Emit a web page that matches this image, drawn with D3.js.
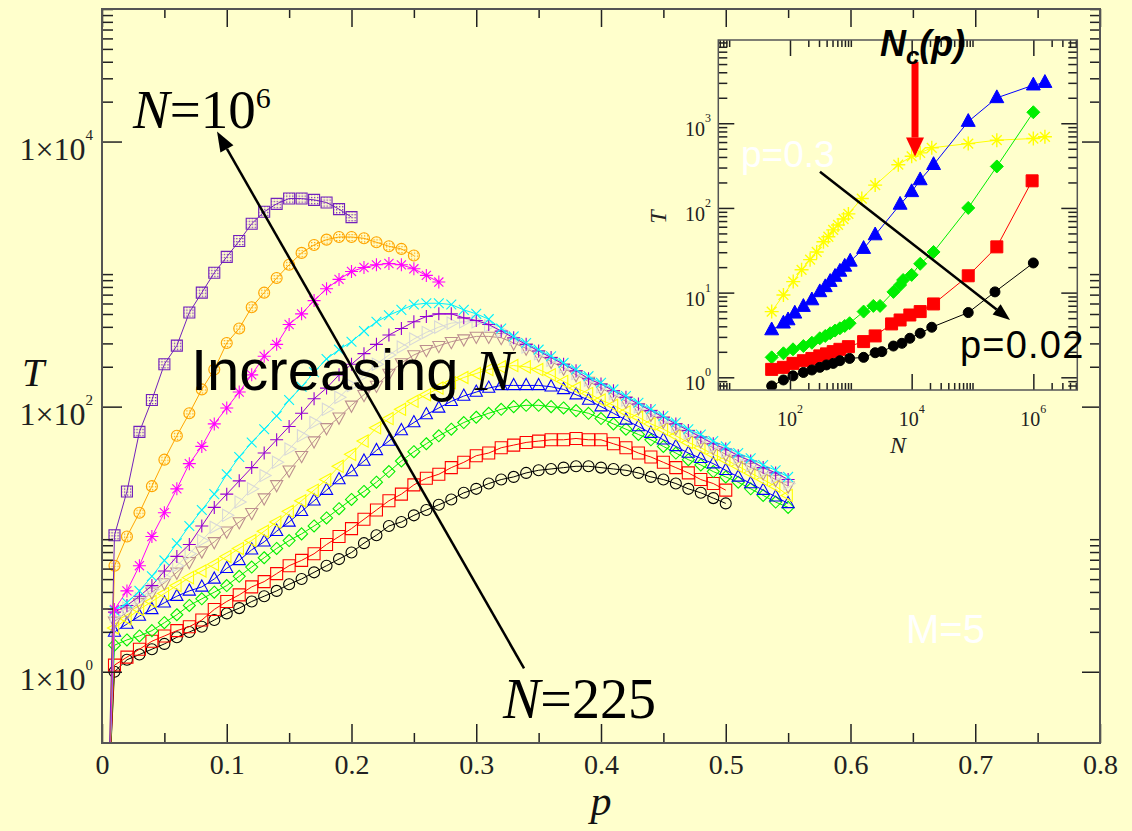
<!DOCTYPE html>
<html>
<head>
<meta charset="utf-8">
<script src="https://cdnjs.cloudflare.com/ajax/libs/d3/7.8.5/d3.min.js"></script>
<style>
  body { margin: 0; background: #ffffcc; }
  svg { display: block; }
</style>
</head>
<body>
<div id="chart"></div>
<script>
'use strict';

// ---- main panel: T versus p, log10(T) (first point at p=0.005 falls below the frame)
var pGrid = [0.005, 0.01, 0.02, 0.03, 0.04, 0.05, 0.06, 0.07, 0.08, 0.09, 0.10,
  0.11, 0.12, 0.13, 0.14, 0.15, 0.16, 0.17, 0.18, 0.19, 0.20,
  0.21, 0.22, 0.23, 0.24, 0.25, 0.26, 0.27, 0.28, 0.29, 0.30,
  0.31, 0.32, 0.33, 0.34, 0.35, 0.36, 0.37, 0.38, 0.39, 0.40,
  0.41, 0.42, 0.43, 0.44, 0.45, 0.46, 0.47, 0.48, 0.49, 0.50,
  0.51, 0.52, 0.53, 0.54, 0.55]

var logT_black = [-1.0, 0.00, 0.09, 0.13, 0.17, 0.21, 0.26, 0.30, 0.34, 0.39, 0.44, 0.48, 0.53, 0.57, 0.61, 0.66, 0.70, 0.75, 0.80, 0.85, 0.90, 0.97, 1.03, 1.10, 1.13, 1.18, 1.22, 1.26, 1.30, 1.35, 1.38, 1.42, 1.45, 1.47, 1.50, 1.52, 1.53, 1.54, 1.55, 1.55, 1.54, 1.53, 1.52, 1.50, 1.47, 1.45, 1.42, 1.38, 1.35, 1.31, 1.27]
var logT_red = [-1.0, 0.05, 0.11, 0.17, 0.23, 0.27, 0.31, 0.34, 0.39, 0.47, 0.53, 0.58, 0.64, 0.68, 0.74, 0.80, 0.84, 0.89, 0.96, 1.02, 1.08, 1.15, 1.22, 1.29, 1.34, 1.41, 1.46, 1.49, 1.54, 1.58, 1.63, 1.65, 1.69, 1.71, 1.73, 1.74, 1.75, 1.75, 1.76, 1.75, 1.75, 1.72, 1.69, 1.65, 1.62, 1.58, 1.54, 1.50, 1.45, 1.42, 1.37]
var logT_green = [-1.0, 0.20, 0.24, 0.27, 0.31, 0.37, 0.43, 0.50, 0.55, 0.60, 0.65, 0.72, 0.79, 0.86, 0.93, 0.99, 1.04, 1.10, 1.16, 1.23, 1.30, 1.36, 1.43, 1.51, 1.59, 1.66, 1.72, 1.78, 1.83, 1.88, 1.92, 1.95, 1.98, 2.00, 2.01, 2.01, 2.00, 1.99, 1.97, 1.95, 1.91, 1.87, 1.83, 1.79, 1.75, 1.70, 1.65, 1.60, 1.56, 1.51, 1.47, 1.43, 1.38, 1.33, 1.28, 1.24]
var logT_blue = [-1.0, 0.30, 0.36, 0.42, 0.47, 0.52, 0.57, 0.61, 0.64, 0.70, 0.78, 0.84, 0.92, 0.98, 1.06, 1.13, 1.21, 1.29, 1.37, 1.45, 1.51, 1.59, 1.67, 1.74, 1.82, 1.88, 1.94, 1.99, 2.04, 2.08, 2.11, 2.14, 2.16, 2.16, 2.16, 2.16, 2.15, 2.13, 2.09, 2.05, 2.00, 1.95, 1.90, 1.85, 1.80, 1.75, 1.70, 1.65, 1.61, 1.57, 1.52, 1.47, 1.42, 1.37, 1.32, 1.27]
var logT_yellow = [-1.0, 0.33, 0.40, 0.47, 0.53, 0.59, 0.65, 0.71, 0.76, 0.81, 0.87, 0.93, 0.99, 1.06, 1.13, 1.21, 1.29, 1.37, 1.45, 1.55, 1.64, 1.74, 1.84, 1.91, 1.98, 2.04, 2.09, 2.14, 2.18, 2.22, 2.25, 2.28, 2.30, 2.31, 2.30, 2.28, 2.24, 2.19, 2.14, 2.10, 2.05, 2.01, 1.96, 1.92, 1.87, 1.83, 1.78, 1.73, 1.69, 1.64, 1.60, 1.55, 1.50, 1.45, 1.40, 1.33]
var logT_brown = [-1.0, 0.38, 0.45, 0.52, 0.60, 0.67, 0.75, 0.83, 0.91, 0.98, 1.06, 1.13, 1.20, 1.31, 1.41, 1.52, 1.63, 1.74, 1.84, 1.92, 2.01, 2.09, 2.16, 2.25, 2.33, 2.39, 2.43, 2.46, 2.49, 2.51, 2.53, 2.53, 2.52, 2.48, 2.44, 2.39, 2.34, 2.29, 2.24, 2.19, 2.14, 2.09, 2.04, 1.99, 1.94, 1.89, 1.84, 1.79, 1.74, 1.69, 1.64, 1.59, 1.54, 1.50, 1.45, 1.40]
var logT_grey = [-1.0, 0.42, 0.48, 0.55, 0.62, 0.71, 0.80, 0.89, 0.99, 1.09, 1.18, 1.28, 1.38, 1.48, 1.58, 1.68, 1.78, 1.88, 1.98, 2.07, 2.16, 2.24, 2.32, 2.39, 2.45, 2.51, 2.56, 2.60, 2.63, 2.64, 2.64, 2.61, 2.57, 2.51, 2.45, 2.40, 2.35, 2.30, 2.25, 2.20, 2.15, 2.10, 2.05, 2.00, 1.95, 1.90, 1.85, 1.80, 1.75, 1.70, 1.66, 1.61, 1.56, 1.51, 1.47, 1.42]
var logT_violet = [-1.0, 0.45, 0.50, 0.57, 0.65, 0.76, 0.87, 0.96, 1.10, 1.24, 1.34, 1.44, 1.54, 1.65, 1.75, 1.85, 1.95, 2.06, 2.14, 2.24, 2.32, 2.40, 2.47, 2.54, 2.59, 2.64, 2.68, 2.70, 2.70, 2.67, 2.65, 2.62, 2.57, 2.52, 2.47, 2.42, 2.37, 2.32, 2.27, 2.21, 2.17, 2.12, 2.07, 2.02, 1.97, 1.92, 1.87, 1.82, 1.77, 1.72, 1.68, 1.63, 1.59, 1.54, 1.50, 1.45]
var logT_cyan = [-1.0, 0.46, 0.52, 0.61, 0.72, 0.84, 0.97, 1.10, 1.22, 1.34, 1.49, 1.62, 1.73, 1.83, 1.93, 2.05, 2.15, 2.26, 2.36, 2.43, 2.49, 2.57, 2.64, 2.69, 2.73, 2.77, 2.78, 2.78, 2.77, 2.73, 2.70, 2.66, 2.59, 2.53, 2.48, 2.43, 2.38, 2.33, 2.28, 2.23, 2.18, 2.13, 2.08, 2.03, 1.98, 1.93, 1.88, 1.83, 1.79, 1.74, 1.70, 1.65, 1.61, 1.56, 1.52, 1.47]
var logT_magenta = [-1.0, 0.47, 0.61, 0.80, 1.02, 1.20, 1.38, 1.57, 1.70, 1.87, 1.99, 2.11, 2.24, 2.38, 2.47, 2.62, 2.70, 2.80, 2.89, 2.96, 3.02, 3.05, 3.07, 3.08, 3.07, 3.04, 2.99, 2.94]
var logT_orange = [-1.0, 0.80, 1.02, 1.20, 1.40, 1.60, 1.78, 1.95, 2.13, 2.28, 2.48, 2.59, 2.75, 2.86, 2.97, 3.07, 3.16, 3.22, 3.26, 3.28, 3.28, 3.27, 3.24, 3.21, 3.19, 3.14]
var logT_indigo = [-1.0, 1.03, 1.36, 1.81, 2.05, 2.32, 2.46, 2.71, 2.86, 3.01, 3.13, 3.25, 3.38, 3.47, 3.53, 3.57, 3.57, 3.56, 3.54, 3.49, 3.43]

var xTicks = [0, 0.1, 0.2, 0.3, 0.4, 0.5, 0.6, 0.7, 0.8]
var yTicks = [1, 100, 10000]
var yTickExp = ["0", "2", "4"]

// ---- inset: T versus N for five values of p
var inN_yellow = [50, 78, 113, 155, 214, 275, 355, 427, 513, 617, 759, 912, 1514, 2512, 6026, 10000, 13800, 21400, 85100, 251000, 1000000, 1550000]
var inT_yellow = [5.97, 9.38, 13.5, 18.6, 24.5, 30.2, 39.8, 45.7, 55, 63, 74, 85, 129, 186, 324, 407, 447, 513, 575, 631, 661, 692]
var inN_blue = [50, 78, 93, 120, 166, 229, 309, 380, 457, 550, 661, 794, 977, 1622, 2512, 6457, 10000, 13800, 22900, 85100, 251000, 1000000, 1550000]
var inT_blue = [3.62, 4.35, 4.75, 5.70, 6.84, 8.18, 10.2, 11.7, 13.5, 15.5, 17.8, 20.4, 23.4, 33.1, 47.9, 110, 155, 214, 324, 1047, 1995, 2818, 3020]
var inN_green = [50, 78, 112, 166, 229, 309, 380, 457, 550, 661, 794, 955, 1622, 2344, 3020, 5012, 6457, 7244, 10000, 13800, 22900, 85100, 251000, 1000000]
var inT_green = [1.72, 1.92, 2.14, 2.34, 2.56, 2.89, 3.08, 3.31, 3.56, 3.79, 4.04, 4.35, 5.97, 6.97, 6.97, 10.2, 12.3, 14.1, 16.2, 21.9, 30.2, 100, 309, 1349]
var inN_red = [50, 78, 112, 166, 229, 309, 398, 513, 661, 912, 1622, 2512, 4677, 6457, 9333, 13800, 22900, 85100, 251000, 955000]
var inT_red = [1.24, 1.31, 1.46, 1.57, 1.67, 1.79, 1.89, 2.01, 2.14, 2.30, 2.64, 3.08, 4.27, 4.75, 5.44, 5.97, 7.35, 15.8, 34.7, 209]
var inN_black = [50, 78, 112, 166, 229, 309, 398, 513, 661, 955, 1622, 2512, 3236, 5012, 6918, 9333, 13800, 21400, 85100, 234000, 1000000]
var inT_black = [0.79, 0.93, 1.04, 1.14, 1.22, 1.31, 1.40, 1.46, 1.57, 1.67, 1.72, 1.95, 2.01, 2.34, 2.52, 2.89, 3.31, 3.90, 5.81, 10.2, 22.4]

var inXTicks = [100, 10000, 1000000]
var inXExp = ["2", "4", "6"]
var inYTicks = [1, 10, 100, 1000]
var inYExp = ["0", "1", "2", "3"]

var serif = "'Liberation Serif', 'Times New Roman', serif"
var sans = "'Liberation Sans', Arial, sans-serif"
var bg = "#ffffcc"

var svg = d3.select("#chart").append("svg").attr("width", 1132).attr("height", 831)
svg.append("rect").attr("width", 1132).attr("height", 831).attr("fill", bg)

var defs = svg.append("defs")
defs.append("clipPath").attr("id", "clipMain").append("rect")
  .attr("x", 102).attr("y", 9).attr("width", 998).attr("height", 734)
defs.append("clipPath").attr("id", "clipInset").append("rect")
  .attr("x", 718).attr("y", 40).attr("width", 360).attr("height", 350)
function dots(id, col) {
  defs.append("pattern").attr("id", id).attr("width", 3).attr("height", 3)
    .attr("patternUnits", "userSpaceOnUse")
    .append("rect").attr("width", 1.3).attr("height", 1.3).attr("fill", col)
}
dots("dotIndigo", "#7221bc")
dots("dotOrange", "#ffa500")

function symbolPath(type, s) {
  var h = s * 0.87
  switch (type) {
    case "circle": return "M" + (-s) + ",0A" + s + "," + s + " 0 1,0 " + s + ",0A" + s + "," + s + " 0 1,0 " + (-s) + ",0Z"
    case "square": return "M" + (-s) + "," + (-s) + "H" + s + "V" + s + "H" + (-s) + "Z"
    case "diamond": return "M0," + (-s) + "L" + s + ",0L0," + s + "L" + (-s) + ",0Z"
    case "triUp": return "M0," + (-s) + "L" + h + "," + (s * 0.6) + "L" + (-h) + "," + (s * 0.6) + "Z"
    case "triDown": return "M0," + s + "L" + h + "," + (-s * 0.6) + "L" + (-h) + "," + (-s * 0.6) + "Z"
    case "triLeft": return "M" + (-s) + ",0L" + (s * 0.6) + "," + h + "L" + (s * 0.6) + "," + (-h) + "Z"
    case "triRight": return "M" + s + ",0L" + (-s * 0.6) + "," + h + "L" + (-s * 0.6) + "," + (-h) + "Z"
    case "plus": return "M" + (-s) + ",0H" + s + "M0," + (-s) + "V" + s
    case "cross": return "M" + (-s * 0.7) + "," + (-s * 0.7) + "L" + (s * 0.7) + "," + (s * 0.7) + "M" + (-s * 0.7) + "," + (s * 0.7) + "L" + (s * 0.7) + "," + (-s * 0.7)
    case "star": return "M" + (-s) + ",0H" + s + "M0," + (-s) + "V" + s +
      "M" + (-s * 0.7) + "," + (-s * 0.7) + "L" + (s * 0.7) + "," + (s * 0.7) + "M" + (-s * 0.7) + "," + (s * 0.7) + "L" + (s * 0.7) + "," + (-s * 0.7)
  }
}

// ================= main panel =================
var x = d3.scaleLinear().domain([0, 0.8]).range([102, 1100])
var y = d3.scaleLog().domain([0.29, 1e5]).range([743, 9])

var mainSeries = [
  { v: logT_black, color: "#000000", sym: "circle", s: 5.5, fill: "none" },
  { v: logT_red, color: "#ff0000", sym: "square", s: 6, fill: "none" },
  { v: logT_green, color: "#00ee00", sym: "diamond", s: 6, fill: "none" },
  { v: logT_blue, color: "#0000ff", sym: "triUp", s: 7, fill: "none" },
  { v: logT_yellow, color: "#ffff00", sym: "triLeft", s: 7, fill: "none" },
  { v: logT_brown, color: "#bc8f8f", sym: "triDown", s: 7, fill: "none" },
  { v: logT_grey, color: "#d8d8d8", sym: "triRight", s: 7, fill: "none" },
  { v: logT_violet, color: "#9400d3", sym: "plus", s: 6.5, fill: "none" },
  { v: logT_cyan, color: "#00f0ff", sym: "cross", s: 7, fill: "none" },
  { v: logT_magenta, color: "#ff00ff", sym: "star", s: 6.5, fill: "none" },
  { v: logT_orange, color: "#ffa500", sym: "circle", s: 5.5, fill: "url(#dotOrange)" },
  { v: logT_indigo, color: "#7221bc", sym: "square", s: 5.5, fill: "url(#dotIndigo)" }
]

var line = d3.line().x(function (d) { return x(d.p) }).y(function (d) { return y(d.T) })
var plot = svg.append("g").attr("clip-path", "url(#clipMain)")

mainSeries.forEach(function (s) {
  var pts = s.v.map(function (lv, i) { return { p: pGrid[i], T: Math.pow(10, lv) } })
  var g = plot.append("g")
  g.append("path").datum(pts).attr("d", line)
    .attr("fill", "none").attr("stroke", s.color).attr("stroke-width", 1)
  g.selectAll("path.m").data(pts).enter().append("path").attr("class", "m")
    .attr("d", symbolPath(s.sym, s.s))
    .attr("transform", function (d) { return "translate(" + x(d.p) + "," + y(d.T) + ")" })
    .attr("fill", s.fill).attr("stroke", s.color).attr("stroke-width", 1.1)
})

// axes (inward ticks on four sides)
var tickCol = "#222"
function styleAxis(g) {
  g.select(".domain").remove()
  g.selectAll("line").attr("stroke", tickCol).attr("stroke-width", 1.5)
}
var xMinor = [0.05, 0.15, 0.25, 0.35, 0.45, 0.55, 0.65, 0.75]
var yMinor = []
yTicks.forEach(function (m) { for (var k = 2; k <= 10; k++) yMinor.push(m * k) })

var axB = svg.append("g").attr("transform", "translate(0,743)")
  .call(d3.axisBottom(x).tickValues(xTicks).tickSizeInner(-19).tickSizeOuter(0).tickPadding(11).tickFormat(d3.format("")))
axB.call(styleAxis)
axB.selectAll("text").attr("font-family", serif).attr("font-size", 28).attr("fill", "#222")
svg.append("g").attr("transform", "translate(0,743)")
  .call(d3.axisBottom(x).tickValues(xMinor).tickSizeInner(-10).tickSizeOuter(0).tickFormat("")).call(styleAxis)
svg.append("g").attr("transform", "translate(0,9)")
  .call(d3.axisTop(x).tickValues(xTicks).tickSizeInner(-18).tickSizeOuter(0).tickFormat("")).call(styleAxis)
svg.append("g").attr("transform", "translate(0,9)")
  .call(d3.axisTop(x).tickValues(xMinor).tickSizeInner(-9).tickSizeOuter(0).tickFormat("")).call(styleAxis)

svg.append("g").attr("transform", "translate(102,0)")
  .call(d3.axisLeft(y).tickValues(yTicks).tickSizeInner(-20).tickSizeOuter(0).tickFormat("")).call(styleAxis)
svg.append("g").attr("transform", "translate(102,0)")
  .call(d3.axisLeft(y).tickValues(yMinor).tickSizeInner(-11).tickSizeOuter(0).tickFormat("")).call(styleAxis)
svg.append("g").attr("transform", "translate(1100,0)")
  .call(d3.axisRight(y).tickValues(yTicks).tickSizeInner(-18).tickSizeOuter(0).tickFormat("")).call(styleAxis)
svg.append("g").attr("transform", "translate(1100,0)")
  .call(d3.axisRight(y).tickValues(yMinor).tickSizeInner(-10).tickSizeOuter(0).tickFormat("")).call(styleAxis)

svg.append("rect").attr("x", 102).attr("y", 9).attr("width", 998).attr("height", 734)
  .attr("fill", "none").attr("stroke", "#555").attr("stroke-width", 2)

// y tick labels 1x10^n
yTicks.forEach(function (v, i) {
  var t = svg.append("text").attr("x", 93).attr("y", y(v) + 18).attr("text-anchor", "end")
    .attr("font-family", serif).attr("font-size", 32).attr("fill", "#222")
  t.append("tspan").text("1\u00d710")
  t.append("tspan").attr("dy", -20).attr("font-size", 15).text(yTickExp[i])
})

// axis titles
svg.append("text").attr("x", 22).attr("y", 386).attr("font-family", serif).attr("font-style", "italic")
  .attr("font-size", 40).attr("fill", "#111").text("T")
svg.append("text").attr("x", x(0.4)).attr("y", 815).attr("text-anchor", "middle").attr("font-family", serif)
  .attr("font-style", "italic").attr("font-size", 42).attr("fill", "#111").text("p")

// ================= inset =================
var ix = d3.scaleLog().domain([6.63, 5.28e6]).range([718.3, 1077.3])
var iy = d3.scaleLog().domain([0.708, 9620]).range([390, 40])

svg.append("rect").attr("x", 718.3).attr("y", 40).attr("width", 359).attr("height", 350).attr("fill", bg)

var insetSeries = [
  { n: inN_yellow, t: inT_yellow, color: "#ffff00", sym: "star", s: 7 },
  { n: inN_blue, t: inT_blue, color: "#0000ff", sym: "triUp", s: 8 },
  { n: inN_green, t: inT_green, color: "#00ee00", sym: "diamond", s: 6.5 },
  { n: inN_red, t: inT_red, color: "#ff0000", sym: "square", s: 6 },
  { n: inN_black, t: inT_black, color: "#000000", sym: "circle", s: 5 }
]
var iline = d3.line().x(function (d) { return ix(d.n) }).y(function (d) { return iy(d.t) })
var iplot = svg.append("g").attr("clip-path", "url(#clipInset)")
insetSeries.forEach(function (s) {
  var pts = s.n.map(function (n, i) { return { n: n, t: s.t[i] } })
  var g = iplot.append("g")
  g.append("path").datum(pts).attr("d", iline).attr("fill", "none").attr("stroke", s.color).attr("stroke-width", 1)
  g.selectAll("path.m").data(pts).enter().append("path").attr("class", "m")
    .attr("d", symbolPath(s.sym, s.s))
    .attr("transform", function (d) { return "translate(" + ix(d.n) + "," + iy(d.t) + ")" })
    .attr("fill", s.sym === "star" ? "none" : s.color).attr("stroke", s.color).attr("stroke-width", s.sym === "star" ? 1.4 : 1)
})

var inXMinor = []
;[1, 100, 10000, 1000000].forEach(function (m) {
  for (var k = 2; k <= 10; k++) { var v = m * k; if (v > 6.63 && v < 5.28e6) inXMinor.push(v) }
})
var inYMinor = []
;[0.1, 1, 10, 100, 1000].forEach(function (m) {
  for (var k = 2; k <= 9; k++) { var v = m * k; if (v > 0.708 && v < 9620) inYMinor.push(v) }
})
function insetAxis(axis, tx, ty, vals, size) {
  svg.append("g").attr("transform", "translate(" + tx + "," + ty + ")")
    .call(axis.tickValues(vals).tickSizeInner(-size).tickSizeOuter(0).tickFormat("")).call(styleAxis)
}
insetAxis(d3.axisBottom(ix), 0, 390, inXTicks, 16)
insetAxis(d3.axisBottom(ix), 0, 390, inXMinor, 7)
insetAxis(d3.axisTop(ix), 0, 40, inXTicks, 16)
insetAxis(d3.axisTop(ix), 0, 40, inXMinor, 7)
insetAxis(d3.axisLeft(iy), 718.3, 0, inYTicks, 16)
insetAxis(d3.axisLeft(iy), 718.3, 0, inYMinor, 9)
insetAxis(d3.axisRight(iy), 1077.3, 0, inYTicks, 16)
insetAxis(d3.axisRight(iy), 1077.3, 0, inYMinor, 9)
svg.append("rect").attr("x", 718.3).attr("y", 40).attr("width", 359).attr("height", 350)
  .attr("fill", "none").attr("stroke", "#555").attr("stroke-width", 1.5)

inXTicks.forEach(function (v, i) {
  var t = svg.append("text").attr("x", ix(v)).attr("y", 426).attr("text-anchor", "middle")
    .attr("font-family", serif).attr("font-size", 20).attr("fill", "#222")
  t.append("tspan").text("10")
  t.append("tspan").attr("dy", -13).attr("font-size", 12).text(inXExp[i])
})
inYTicks.forEach(function (v, i) {
  var t = svg.append("text").attr("x", 711).attr("y", iy(v) + 13).attr("text-anchor", "end")
    .attr("font-family", serif).attr("font-size", 20).attr("fill", "#222")
  t.append("tspan").text("10")
  t.append("tspan").attr("dy", -14).attr("font-size", 12).text(inYExp[i])
})
svg.append("text").attr("x", 898).attr("y", 453).attr("text-anchor", "middle").attr("font-family", serif)
  .attr("font-style", "italic").attr("font-size", 24).attr("fill", "#222").text("N")
svg.append("text").attr("transform", "translate(666,217) rotate(-90)").attr("text-anchor", "middle")
  .attr("font-family", serif).attr("font-style", "italic").attr("font-size", 24).attr("fill", "#222").text("T")

// ================= annotations =================
function arrow(x1, y1, x2, y2, col, w, hl, hw) {
  var a = Math.atan2(y2 - y1, x2 - x1)
  var bx = x2 - hl * Math.cos(a), by = y2 - hl * Math.sin(a)
  var nx = -Math.sin(a) * hw / 2, ny = Math.cos(a) * hw / 2
  svg.append("line").attr("x1", x1).attr("y1", y1).attr("x2", bx).attr("y2", by)
    .attr("stroke", col).attr("stroke-width", w)
  svg.append("polygon").attr("points", [[x2, y2], [bx + nx, by + ny], [bx - nx, by - ny]].join(" ")).attr("fill", col)
}
// main arrow from N=225 to N=10^6 (anchored in data units)
arrow(x(0.3383), y(1.06), x(0.0922), y(11900), "#000", 2.5, 20, 15)
// inset arrows
arrow(ix(311), iy(268), ix(414000), iy(4.76), "#000", 2.5, 17, 13)
arrow(ix(11350), iy(5330), ix(11350), iy(404), "#ff0000", 7, 19, 18)

var tN6 = svg.append("text").attr("x", 133).attr("y", 128).attr("font-family", serif).attr("font-size", 55).attr("fill", "#000")
tN6.append("tspan").attr("font-style", "italic").text("N")
tN6.append("tspan").text("=10")
tN6.append("tspan").attr("dy", -20).attr("font-size", 30).text("6")

var tN225 = svg.append("text").attr("x", 503).attr("y", 718).attr("font-family", serif).attr("font-size", 56).attr("fill", "#000")
tN225.append("tspan").attr("font-style", "italic").text("N")
tN225.append("tspan").text("=225")

var tInc = svg.append("text").attr("x", 191).attr("y", 390).attr("font-family", sans).attr("font-size", 58).attr("fill", "#000")
tInc.append("tspan").text("Increasing ")
tInc.append("tspan").attr("font-family", serif).attr("font-style", "italic").text("N")

svg.append("text").attr("x", 906).attr("y", 643).attr("font-family", sans).attr("font-size", 40).attr("fill", "#ffffff").text("M=5")
svg.append("text").attr("x", 741).attr("y", 167).attr("font-family", sans).attr("font-size", 37).attr("fill", "#ffffff").text("p=0.3")
svg.append("text").attr("x", 960).attr("y", 358).attr("font-family", sans).attr("font-size", 38)
  .attr("letter-spacing", 1.2).attr("fill", "#000").text("p=0.02")

var tNc = svg.append("text").attr("x", 880).attr("y", 56).attr("font-family", sans).attr("font-weight", "bold")
  .attr("font-style", "italic").attr("font-size", 36).attr("fill", "#000")
tNc.append("tspan").text("N")
tNc.append("tspan").attr("dy", 8).attr("font-size", 24).text("c")
tNc.append("tspan").attr("dy", -8).text("(p)")
</script>
</body>
</html>
